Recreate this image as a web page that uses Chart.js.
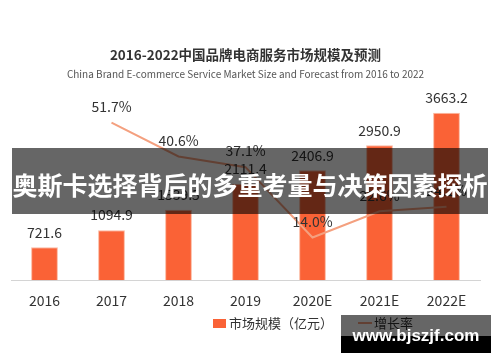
<!DOCTYPE html>
<html>
<head>
<meta charset="utf-8">
<script src="https://cdn.jsdelivr.net/npm/chart.js@4.4.1/dist/chart.umd.min.js"></script>
<style>
  body { margin: 0; background: #fff; }
  #wrap { position: relative; width: 500px; height: 362px; overflow: hidden; font-family: 'Noto Sans CJK SC', sans-serif; }
  canvas { position: absolute; left: 0; top: 0; }
  .legend-box { position: absolute; left: 213px; top: 319px; width: 13px; height: 9px; background: #fa6236; }
  .legend-line { position: absolute; left: 358px; top: 322px; width: 14px; height: 2px; background: #f4a07f; }
  .legend-text { position: absolute; top: 314px; font-size: 13px; line-height: 18px; color: #333; white-space: nowrap; }
  #banner { position: absolute; left: 12px; top: 148px; width: 476px; height: 66px; background: rgba(0,0,0,0.6);
    color: #fff; font-weight: bold; font-size: 25px; line-height: 66px; text-align: center; white-space: nowrap;
    padding-top: 3px; box-sizing: border-box; }
  #mark-top { position: absolute; left: 341px; top: 315px; width: 150px; height: 21px; background: rgba(0,0,0,0.6); }
  #mark-bot { position: absolute; left: 341px; top: 336px; width: 150px; height: 17px; background: #000; }
  #mark-text { position: absolute; left: 341px; top: 326px; width: 150px; text-align: center; color: #fff;
    font-family: 'Liberation Sans', Arial, sans-serif; font-weight: bold; font-size: 17px; line-height: 20px; }
</style>
</head>
<body>
<div id="wrap">
  <canvas id="chart" width="500" height="362"></canvas>
  <div class="legend-box"></div>
  <div class="legend-text" style="left:229px">市场规模（亿元）</div>
  <div class="legend-line"></div>
  <div class="legend-text" style="left:374px">增长率</div>
  <div id="banner">奥斯卡选择背后的多重考量与决策因素探析</div>
  <div id="mark-top"></div>
  <div id="mark-bot"></div>
  <div id="mark-text">www.bjszjf.com</div>
</div>
<script>
const years = ['2016', '2017', '2018', '2019', '2020E', '2021E', '2022E'];
const marketSize = [721.6, 1094.9, 1539.5, 2111.4, 2406.9, 2950.9, 3663.2];
const growthRate = [null, 51.7, 40.6, 37.1, 14.0, 22.6, 24.1];

const barColor = '#fa6236';
const lineColor = '#f4a07f';
const fontFamily = "'Noto Sans CJK SC', sans-serif";

// value labels above bars and line points
const valueLabels = {
    id: 'valueLabels',
    afterDatasetsDraw(chart) {
        const ctx = chart.ctx;
        ctx.save();
        ctx.font = '14px ' + fontFamily;
        ctx.fillStyle = '#333';
        ctx.textAlign = 'center';
        ctx.textBaseline = 'middle';
        chart.getDatasetMeta(0).data.forEach((el, i) => {
            ctx.fillText(marketSize[i].toFixed(1), el.x, el.y - 15);
        });
        chart.getDatasetMeta(1).data.forEach((el, i) => {
            if (growthRate[i] == null) return;
            ctx.fillText(growthRate[i].toFixed(1) + '%', el.x, el.y - 16);
        });
        ctx.restore();
    }
};

new Chart(document.getElementById('chart').getContext('2d'), {
    data: {
        labels: years,
        datasets: [{
            type: 'bar',
            label: '市场规模（亿元）',
            data: marketSize,
            backgroundColor: barColor,
            borderColor: '#fcb9a1',
            borderWidth: 1,
            barPercentage: 0.4,
            categoryPercentage: 1,
            yAxisID: 'y',
            order: 2
        }, {
            type: 'line',
            label: '增长率',
            data: growthRate,
            borderColor: lineColor,
            borderWidth: 2,
            pointRadius: 0,
            tension: 0,
            fill: false,
            yAxisID: 'y1',
            order: 1
        }]
    },
    options: {
        responsive: false,
        animation: false,
        layout: { padding: { left: 11, right: 20, top: 0, bottom: 41 } },
        plugins: {
            legend: { display: false },
            tooltip: { enabled: false },
            title: {
                display: true,
                text: '2016-2022中国品牌电商服务市场规模及预测',
                color: '#333',
                font: { family: fontFamily, size: 13.5, weight: 'bold' },
                padding: { top: 47, bottom: 2 }
            },
            subtitle: {
                display: true,
                text: 'China Brand E-commerce Service Market Size and Forecast from 2016 to 2022',
                color: '#555',
                font: { family: fontFamily, size: 10 },
                padding: { top: 2.7, bottom: 17.5 }
            }
        },
        scales: {
            x: {
                grid: { display: false, drawTicks: false },
                border: { display: true, color: '#d4d4d4', width: 1 },
                ticks: { color: '#333', padding: 12, font: { family: fontFamily, size: 14 } }
            },
            y: { display: false, min: 0, max: 4000 },
            y1: { display: false, min: 0, max: 60, position: 'right' }
        }
    },
    plugins: [valueLabels]
});
</script>
</body>
</html>
